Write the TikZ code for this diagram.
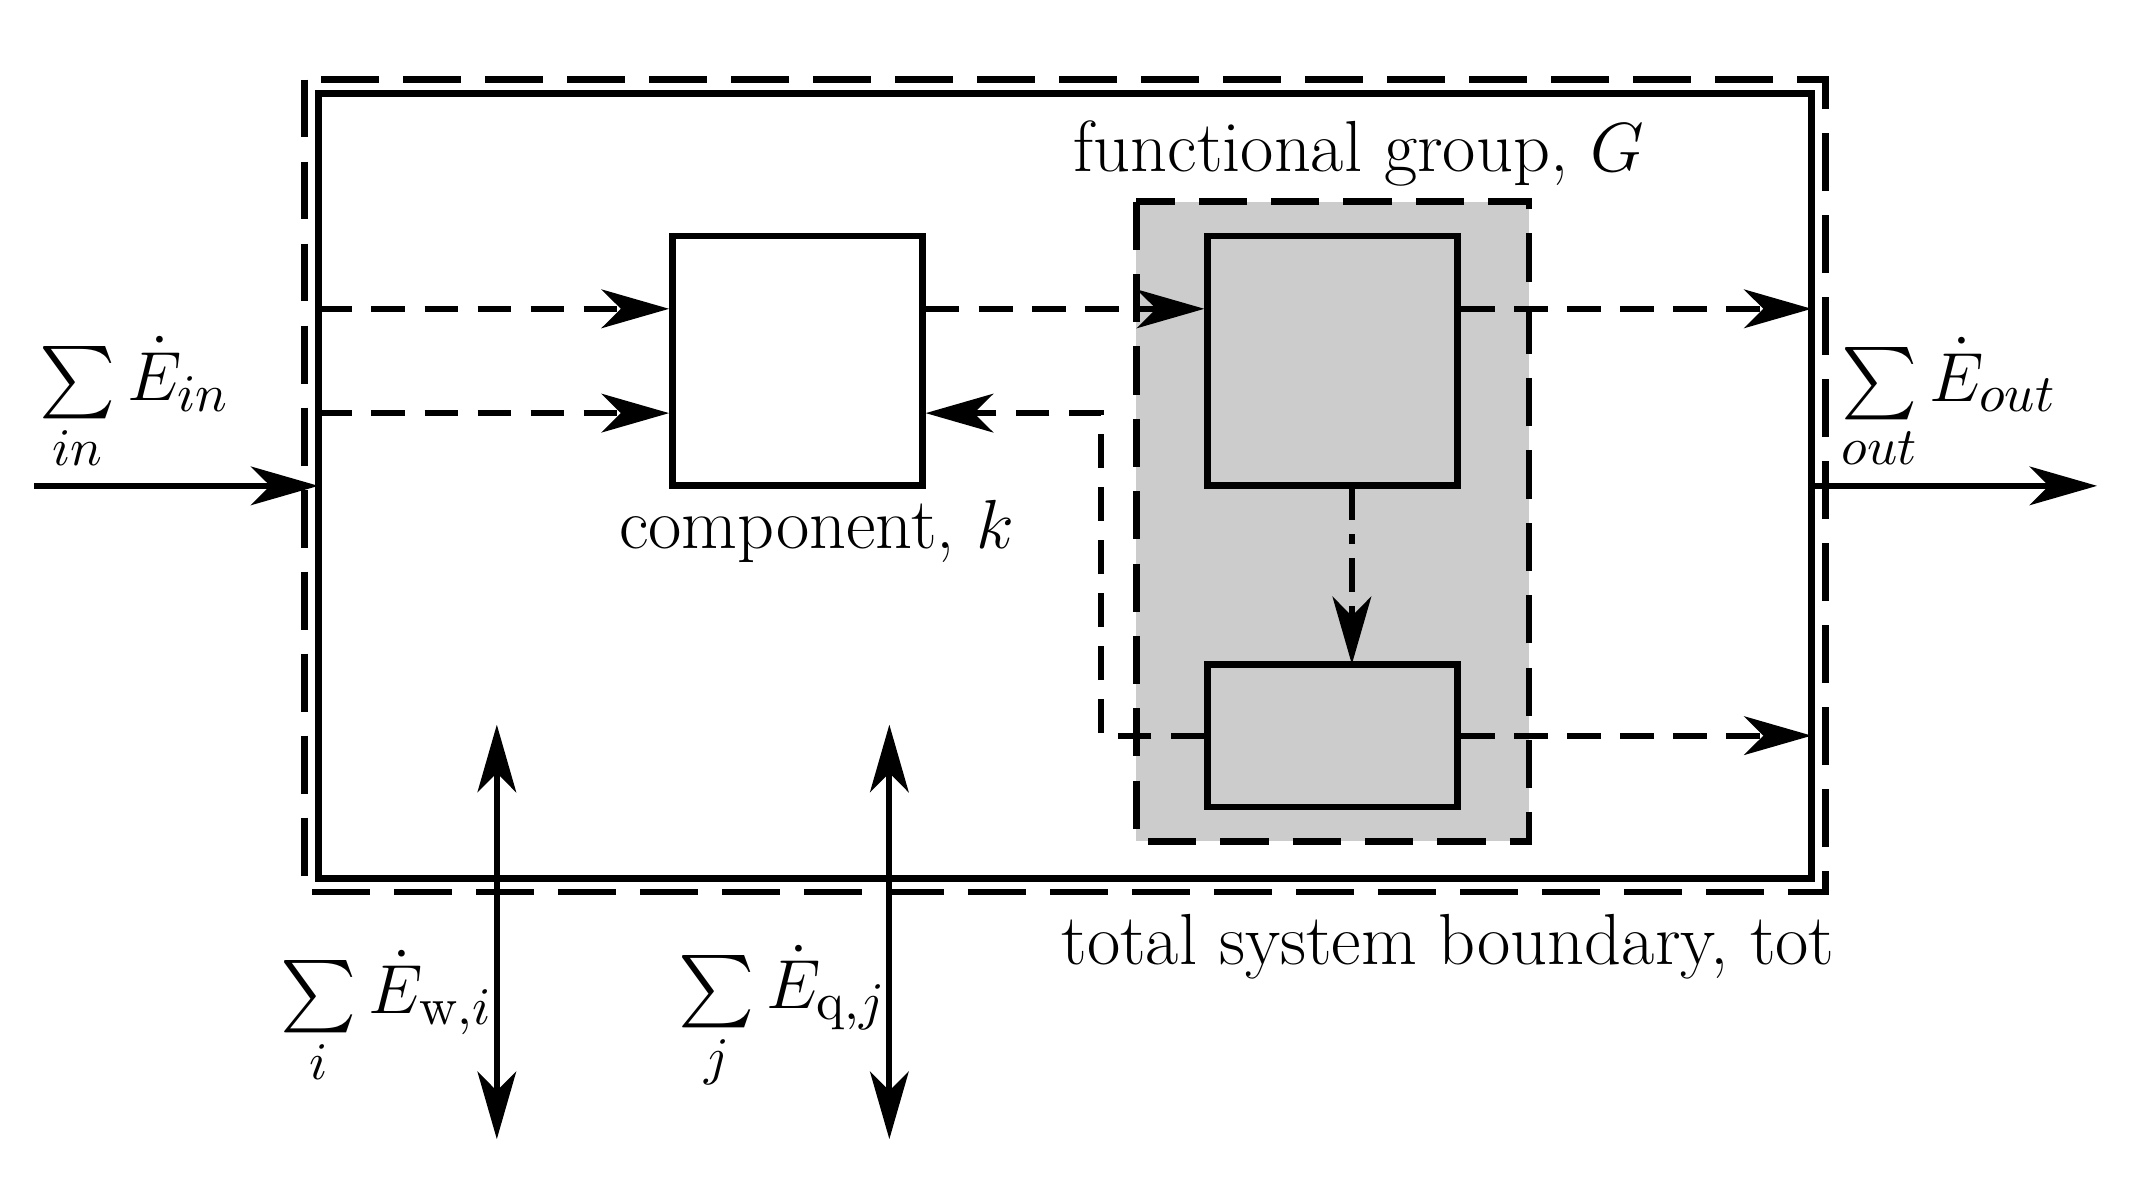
\documentclass[tikz,border=0pt]{standalone}
\usepackage{amsmath,amssymb}
\usetikzlibrary{arrows.meta}
\begin{document}
\begin{tikzpicture}[x=1cm,y=-1cm,
  line width=1.3pt,
  tip/.style={-{Stealth[length=14pt,width=8pt,inset=4pt]}},
  flow/.style={tip,dash pattern=on 7pt off 4pt},
  box/.style={draw,line width=1.4pt,inner sep=0pt},
  lbl/.style={font=\fontsize{15}{18}\selectfont}]
\useasboundingbox (0,0) rectangle (15.68,8.57);
\definecolor{group}{RGB}{204,204,204}

% Boundaries
\draw[line width=1.4pt,dash pattern=on 12pt off 5pt] (2.22,0.58) rectangle (13.30,6.50);
\draw[line width=1.4pt] (2.32,0.68) rectangle (13.20,6.40);
\draw[line width=1.4pt,fill=group,dash pattern=on 10pt off 5pt] (8.28,1.47) rectangle (11.14,6.13);

% Boxes
\node[box,fill=white,minimum width=1.82cm,minimum height=1.82cm] (comp) at (5.81,2.63) {};
\node[box,fill=group,minimum width=1.82cm,minimum height=1.82cm] (top) at (9.71,2.63) {};
\node[box,fill=group,minimum width=1.82cm,minimum height=1.04cm] (bot) at (9.71,5.36) {};

% Labels
\node[lbl] (glbl) at (9.90,1.12) {functional group, $G$};
\node[lbl] (clbl) at (5.95,3.87) {component, $k$};
\node[lbl] (tlbl) at (10.55,6.90) {total system boundary, tot};

% In / out
\coordinate (inS) at (0.25,3.54);
\coordinate (inE) at (2.32,3.54);
\coordinate (outS) at (13.20,3.54);
\coordinate (outE) at (15.28,3.54);
\draw[tip] (inS) -- (inE);
\draw[tip] (outS) -- (outE);
\node[lbl] (ein) at (0.98,2.95) {$\sum\limits_{in}\dot{E}_{in}$};
\node[lbl] (eout) at (14.20,2.95) {$\sum\limits_{out}\dot{E}_{out}$};

% Internal flows
\coordinate (a1) at (2.32,2.25);
\coordinate (a2) at (2.32,3.01);
\coordinate (o1) at (13.20,2.25);
\coordinate (o2) at (13.20,5.36);
\draw[flow] (a1) -- (comp.west |- a1);
\draw[flow] (a2) -- (comp.west |- a2);
\draw[flow] (comp.east |- a1) -- (top.west |- a1);
\draw[flow] (top.east |- a1) -- (o1);
\draw[flow] (bot.east) -- (o2);
\draw[flow] (bot.west) -- (8.02,5.36) -- (8.02,3.01) -- (comp.east |- a2);
\draw[tip,dash pattern=on 7pt off 3pt on 2pt off 3pt] (9.85,3.54) -- (9.85,4.84);

% Work and heat
\coordinate (w1) at (3.62,5.28);
\coordinate (w2) at (3.62,8.30);
\coordinate (q1) at (6.48,5.28);
\coordinate (q2) at (6.48,8.30);
\draw[{Stealth[length=14pt,width=8pt,inset=4pt]}-{Stealth[length=14pt,width=8pt,inset=4pt]}] (w1) -- (w2);
\draw[{Stealth[length=14pt,width=8pt,inset=4pt]}-{Stealth[length=14pt,width=8pt,inset=4pt]}] (q1) -- (q2);
\node[lbl] (ew) at (2.82,7.42) {$\sum\limits_{i}\dot{E}_{\mathrm{w},i}$};
\node[lbl] (eq) at (5.70,7.42) {$\sum\limits_{j}\dot{E}_{\mathrm{q},j}$};
\end{tikzpicture}
\end{document}
